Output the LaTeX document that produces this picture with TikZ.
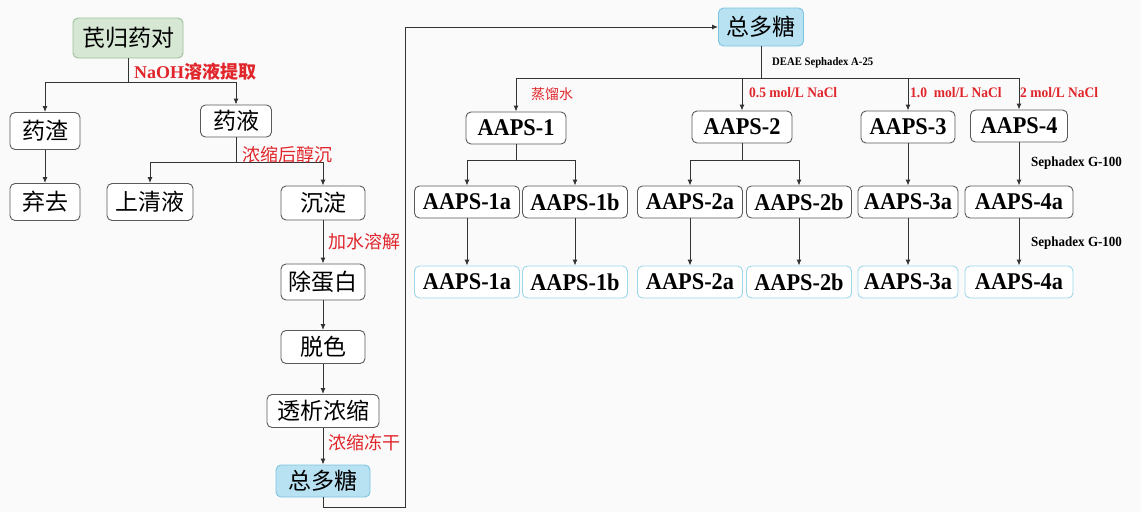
\documentclass[tikz,border=0pt]{standalone}
\usepackage{fontspec}
\setmainfont{Liberation Serif}
\newfontfamily\cjk{Noto Sans CJK SC}
\newfontfamily\aapsfont[FakeStretch=0.93]{Liberation Serif}
\usetikzlibrary{arrows.meta}
\definecolor{bg}{HTML}{FAFAFA}
\definecolor{boxgray}{HTML}{5A5A5A}
\definecolor{linec}{HTML}{333333}
\definecolor{redl}{HTML}{E0252B}
\definecolor{greenf}{HTML}{D6E8D4}
\definecolor{greend}{HTML}{9DBF98}
\definecolor{bluef}{HTML}{B8E1F1}
\definecolor{blued}{HTML}{7CC4E0}
\definecolor{blueb}{HTML}{9ED6EA}
\tikzset{
  box/.style={draw=boxgray, rounded corners=5pt, fill=white, line width=0.9pt,
    inner sep=0pt, font=\cjk\fontsize{23}{23}\selectfont},
  greenbox/.style={box, fill=greenf, draw=greend},
  bluebox/.style={box, fill=bluef, draw=blued},
  abox/.style={box, font=\aapsfont\bfseries\fontsize{24}{24}\selectfont, minimum height=32pt},
  aboxb/.style={abox, draw=blueb},
  conn/.style={draw=linec, line width=1pt},
  arr/.style={conn, -{Latex[length=6pt,width=5pt]}},
  redlab/.style={text=redl, anchor=west, inner sep=0pt},
  blab/.style={text=black, anchor=west, inner sep=0pt, font=\aapsfont\bfseries\fontsize{14}{14}\selectfont}
}
\begin{document}
\begin{tikzpicture}[x=1pt,y=-1pt]
\fill[bg] (0,0) rectangle (1141,512);
\useasboundingbox (0,0) rectangle (1141,512);

% left column
\node[greenbox, minimum width=110pt, minimum height=40pt] (n0) at (128,38) {芪归药对};
\node[box, minimum width=70pt, minimum height=37pt] (zha) at (45,131) {药渣};
\node[box, minimum width=71pt, minimum height=32pt] (ye) at (236,121) {药液};
\node[box, minimum width=70pt, minimum height=37pt] (qi) at (45,202) {弃去};
\node[box, minimum width=86pt, minimum height=37pt] (sqy) at (150,202) {上清液};
\node[box, minimum width=84pt, minimum height=34pt] (cd) at (323,203) {沉淀};
\node[box, minimum width=84pt, minimum height=36pt] (cdb) at (323,282) {除蛋白};
\node[box, minimum width=84pt, minimum height=33pt] (ts) at (323,347) {脱色};
\node[box, minimum width=112pt, minimum height=33pt] (tx) at (323,411) {透析浓缩};
\node[bluebox, minimum width=94pt, minimum height=32pt] (z1) at (323,481) {总多糖};

\coordinate (j0) at (128,82);
\draw[conn] (n0.south) -- (j0);
\draw[arr] (j0) -| (zha.north);
\draw[arr] (j0) -| (ye.north);
\draw[arr] (zha) -- (qi);
\coordinate (j1) at (236,162);
\draw[conn] (ye.south) -- (j1);
\draw[arr] (j1) -| (sqy.north);
\draw[arr] (j1) -| (cd.north);
\draw[arr] (cd) -- (cdb);
\draw[arr] (cdb) -- (ts);
\draw[arr] (ts) -- (tx);
\draw[arr] (tx) -- (z1);

\node[redlab] (l0) at (134,72) {\fontsize{18}{18}\selectfont\bfseries NaOH{\cjk 溶液提取}};
\node[redlab] (l1) at (242,155) {\cjk\fontsize{18}{18}\selectfont 浓缩后醇沉};
\node[redlab] (l2) at (328,242) {\cjk\fontsize{18}{18}\selectfont 加水溶解};
\node[redlab] (l3) at (328,443) {\cjk\fontsize{18}{18}\selectfont 浓缩冻干};

% right part
\node[bluebox, minimum width=85pt, minimum height=38pt] (z2) at (761,27) {总多糖};
\coordinate (c1) at (405,507);
\draw[arr] (z1.south) |- (c1) |- (z2.west);

\node[abox, minimum width=100pt] (a1) at (516,128) {AAPS-1};
\node[abox, minimum width=100pt] (a2) at (742,127) {AAPS-2};
\node[abox, minimum width=94pt] (a3) at (908,127) {AAPS-3};
\node[abox, minimum width=97pt] (a4) at (1019,126) {AAPS-4};

\coordinate (j2) at (761,78);
\draw[conn] (z2.south) -- (j2);
\draw[arr] (j2) -| (a1.north);
\draw[arr] (j2) -| (a2.north);
\draw[arr] (j2) -| (a3.north);
\draw[arr] (j2) -| (a4.north);

\node[blab, font=\aapsfont\bfseries\fontsize{11.5}{11.5}\selectfont] (ld) at (772,63) {DEAE Sephadex A-25};
\node[redlab] (le1) at (531,94) {\cjk\fontsize{14}{14}\selectfont 蒸馏水};
\node[redlab, font=\aapsfont\bfseries\fontsize{14.5}{14.5}\selectfont] (le2) at (749,93) {0.5 mol/L NaCl};
\node[redlab, font=\aapsfont\bfseries\fontsize{14.5}{14.5}\selectfont] (le3) at (910,93) {1.0\ \ mol/L NaCl};
\node[redlab, font=\aapsfont\bfseries\fontsize{14.5}{14.5}\selectfont] (le4) at (1020,93) {2 mol/L NaCl};

% row 2
\node[abox, minimum width=105pt] (a1a) at (467,202) {AAPS-1a};
\node[abox, minimum width=105pt] (a1b) at (575,202) {AAPS-1b};
\node[abox, minimum width=105pt] (a2a) at (690,202) {AAPS-2a};
\node[abox, minimum width=105pt] (a2b) at (799,202) {AAPS-2b};
\node[abox, minimum width=100pt] (a3a) at (908,202) {AAPS-3a};
\node[abox, minimum width=108pt] (a4a) at (1019,202) {AAPS-4a};

% row 3
\node[aboxb, minimum width=105pt] (b1a) at (467,282) {AAPS-1a};
\node[aboxb, minimum width=105pt] (b1b) at (575,282) {AAPS-1b};
\node[aboxb, minimum width=105pt] (b2a) at (690,282) {AAPS-2a};
\node[aboxb, minimum width=105pt] (b2b) at (799,282) {AAPS-2b};
\node[aboxb, minimum width=100pt] (b3a) at (908,282) {AAPS-3a};
\node[aboxb, minimum width=108pt] (b4a) at (1019,282) {AAPS-4a};

\coordinate (j3) at (516,160);
\draw[conn] (a1.south) -- (j3);
\draw[arr] (j3) -| (a1a.north);
\draw[arr] (j3) -| (a1b.north);
\coordinate (j4) at (742,160);
\draw[conn] (a2.south) -- (j4);
\draw[arr] (j4) -| (a2a.north);
\draw[arr] (j4) -| (a2b.north);
\draw[arr] (a3) -- (a3a);
\draw[arr] (a4) -- (a4a);

\draw[arr] (a1a) -- (b1a);
\draw[arr] (a1b) -- (b1b);
\draw[arr] (a2a) -- (b2a);
\draw[arr] (a2b) -- (b2b);
\draw[arr] (a3a) -- (b3a);
\draw[arr] (a4a) -- (b4a);

\node[blab] (ls1) at (1031,163) {Sephadex G-100};
\node[blab] (ls2) at (1031,243) {Sephadex G-100};
\end{tikzpicture}
\end{document}
